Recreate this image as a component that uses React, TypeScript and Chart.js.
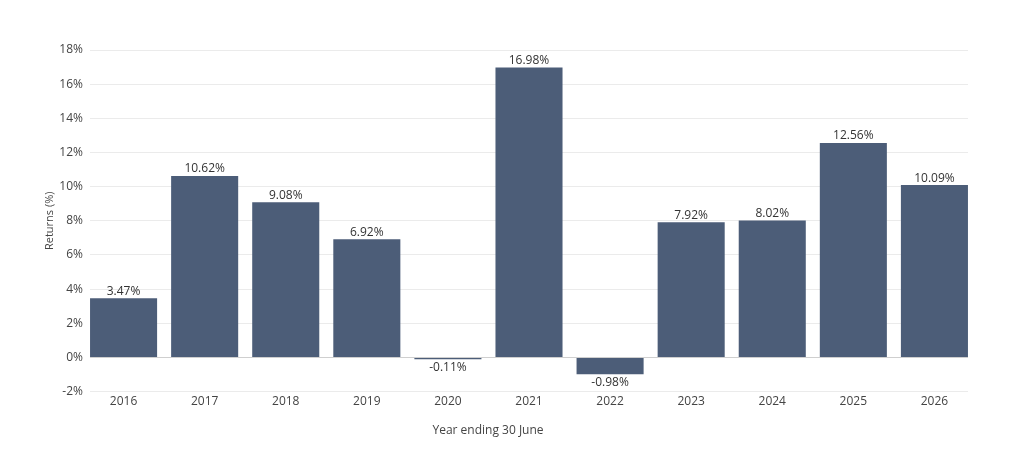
import { useRef, useEffect } from 'react'
import { Chart, registerables } from 'chart.js'
Chart.register(...registerables)

const YEARS = ['2016', '2017', '2018', '2019', '2020', '2021', '2022', '2023', '2024', '2025', '2026']
const RETURNS = [3.47, 10.62, 9.08, 6.92, -0.11, 16.98, -0.98, 7.92, 8.02, 12.56, 10.09]
const Y_TICKS = [-2, 0, 2, 4, 6, 8, 10, 12, 14, 16, 18]
const X_TITLE = 'Year ending 30 June'

const FONT = "'Open Sans', sans-serif"
const BAR = '#4c5d78'

const valueLabels = {
  id: 'valueLabels',
  afterDatasetsDraw(chart: Chart) {
    const ctx = chart.ctx
    const meta = chart.getDatasetMeta(0)
    ctx.save()
    ctx.font = `12px ${FONT}`
    ctx.fillStyle = '#333'
    ctx.textAlign = 'center'
    meta.data.forEach((el: any, i: number) => {
      const v = RETURNS[i]
      const txt = v.toFixed(2) + '%'
      if (v >= 0) {
        ctx.textBaseline = 'bottom'
        ctx.fillText(txt, el.x, el.y - 1)
      } else {
        ctx.textBaseline = 'top'
        ctx.fillText(txt, el.x, el.y + 2)
      }
    })
    // x axis title (sits left of the plot centre in the original)
    ctx.fillStyle = '#444'
    ctx.textBaseline = 'middle'
    ctx.fillText(X_TITLE, 488, 431)
    ctx.restore()
  },
}

export default function App() {
  const ref = useRef<HTMLCanvasElement>(null)

  useEffect(() => {
    document.body.style.margin = '0'
    if (!ref.current) return
    const chart = new Chart(ref.current, {
      type: 'bar',
      data: {
        datasets: [{
          data: RETURNS.map((v, i) => ({ x: i, y: v })),
          backgroundColor: BAR,
          borderWidth: 0,
          barPercentage: 0.827,
          categoryPercentage: 1,
        }],
      },
      options: {
        animation: false,
        responsive: true,
        maintainAspectRatio: false,
        layout: { padding: { left: 43, right: 45, top: 50, bottom: 38 } },
        plugins: { legend: { display: false }, tooltip: { enabled: false } },
        scales: {
          x: {
            type: 'linear',
            offset: false,
            min: -0.414,
            max: 10.414,
            grid: { display: false, drawTicks: false, offset: false },
            border: { display: false },
            ticks: {
              stepSize: 1,
              includeBounds: false,
              autoSkip: false,
              maxRotation: 0,
              color: '#444',
              font: { family: FONT, size: 12 },
              padding: 3,
              callback: (v: any) => YEARS[v] ?? '',
            },
          },
          y: {
            min: -2,
            max: 18,
            afterBuildTicks: (s: any) => { s.ticks = Y_TICKS.map(v => ({ value: v })) },
            afterFit: (s: any) => { s.width = 47 },
            grid: {
              color: (c: any) => (c.tick && c.tick.value === 0 ? '#cfcfcf' : '#ebebeb'),
              drawTicks: false,
            },
            border: { display: false },
            ticks: {
              color: '#444',
              font: { family: FONT, size: 12 },
              padding: 7,
              callback: (v: any) => v + '%',
            },
            title: { display: true, text: 'Returns (%)', color: '#444', font: { family: FONT, size: 11 }, padding: 0 },
          },
        },
      },
      plugins: [valueLabels],
    })
    return () => chart.destroy()
  }, [])

  return (
    <div style={{ position: 'relative', width: 1013, height: 450, background: '#fff' }}>
      <canvas ref={ref} />
    </div>
  )
}
